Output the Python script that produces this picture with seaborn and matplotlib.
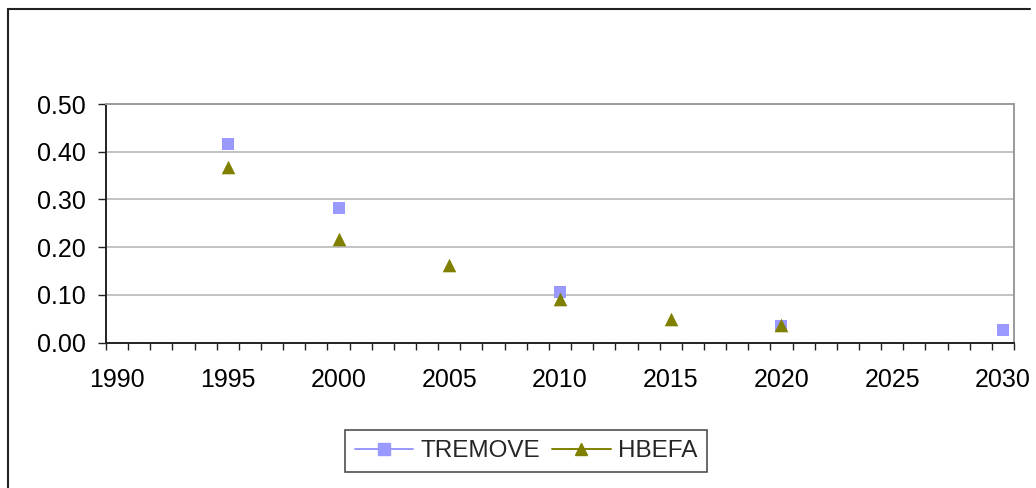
import matplotlib
matplotlib.use("Agg")
import matplotlib.pyplot as plt
from matplotlib.lines import Line2D
from matplotlib.ticker import FixedLocator
import numpy as np
import pandas as pd
import seaborn as sns

# data
tremove_years = [1995, 2000, 2010, 2020, 2030]
tremove_values = [0.416, 0.283, 0.106, 0.035, 0.027]
hbefa_years = [1995, 2000, 2005, 2010, 2015, 2020]
hbefa_values = [0.367, 0.217, 0.163, 0.091, 0.049, 0.036]
series_names = ["TREMOVE", "HBEFA"]
year_labels = [1990, 1995, 2000, 2005, 2010, 2015, 2020, 2025, 2030]
y_ticks = [0.0, 0.1, 0.2, 0.3, 0.4, 0.5]

df = pd.concat([
    pd.DataFrame({"year": tremove_years, "value": tremove_values, "series": series_names[0]}),
    pd.DataFrame({"year": hbefa_years, "value": hbefa_values, "series": series_names[1]}),
])

sns.set_theme(style="white")
plt.rcParams["font.family"] = ["Liberation Sans", "DejaVu Sans"]

colors = {"TREMOVE": "#9999FF", "HBEFA": "#808000"}
markers = {"TREMOVE": "s", "HBEFA": "^"}
sizes = {"TREMOVE": 9.0, "HBEFA": 9.8}

fig = plt.figure(figsize=(10.36, 4.88), dpi=100)
ax = fig.add_axes([106 / 1036, 1 - 342.5 / 488, (1014 - 106) / 1036, (342.5 - 104) / 488])

for name in series_names:
    sub = df[df["series"] == name]
    sns.scatterplot(data=sub, x="year", y="value", ax=ax, marker=markers[name],
                    color=colors[name], s=sizes[name] ** 2, linewidth=0,
                    legend=False, zorder=3)

ax.set_xlim(1989.5, 2030.5)
ax.set_ylim(0, 0.5)
ax.set_xlabel("")
ax.set_ylabel("")

# category style axis: ticks between years, labels on every fifth year
ax.xaxis.set_major_locator(FixedLocator(year_labels))
ax.set_xticklabels([str(y) for y in year_labels])
ax.xaxis.set_minor_locator(FixedLocator(np.arange(1989.5, 2031, 1.0)))
ax.tick_params(axis="x", which="major", length=0, pad=18.5, labelsize=18, labelcolor="black")
ax.tick_params(axis="x", which="minor", length=5, width=1, color="#222222", direction="out", bottom=True)

ax.set_yticks(y_ticks)
ax.set_yticklabels([f"{v:.2f}" for v in y_ticks])
ax.tick_params(axis="y", length=5.8, width=1, color="#222222", direction="out", left=True,
               pad=8.5, labelsize=18, labelcolor="black")

ax.yaxis.grid(True, color="#BDBDBD", linewidth=1.3)
ax.set_axisbelow(True)

for side in ["left", "bottom"]:
    ax.spines[side].set_color("#222222")
    ax.spines[side].set_linewidth(1.4)
for side in ["top", "right"]:
    ax.spines[side].set_color("#9a9a9a")
    ax.spines[side].set_linewidth(1.4)
ax.spines["bottom"].set_zorder(4)

handles = [Line2D([], [], color=colors[n], marker=markers[n], markersize=sizes[n] * 0.95,
                  linewidth=1.4) for n in series_names]
leg = fig.legend(handles, series_names, loc="center", bbox_to_anchor=(526 / 1036, 1 - 451 / 488),
                 ncol=2, fontsize=17.5, frameon=True, fancybox=False, handlelength=2.4,
                 handletextpad=0.3, columnspacing=0.5, borderpad=0.4)
leg.get_frame().set_edgecolor("#222222")
leg.get_frame().set_linewidth(1.2)

# outer chart border (left and top visible)
fig.add_artist(Line2D([8 / 1036, 8 / 1036], [0, 1 - 9 / 488], transform=fig.transFigure,
                      color="#222222", linewidth=1.5))
fig.add_artist(Line2D([8 / 1036, 1030 / 1036], [1 - 9 / 488, 1 - 9 / 488], transform=fig.transFigure,
                      color="#222222", linewidth=1.5))

fig.savefig("out.png", dpi=100)
